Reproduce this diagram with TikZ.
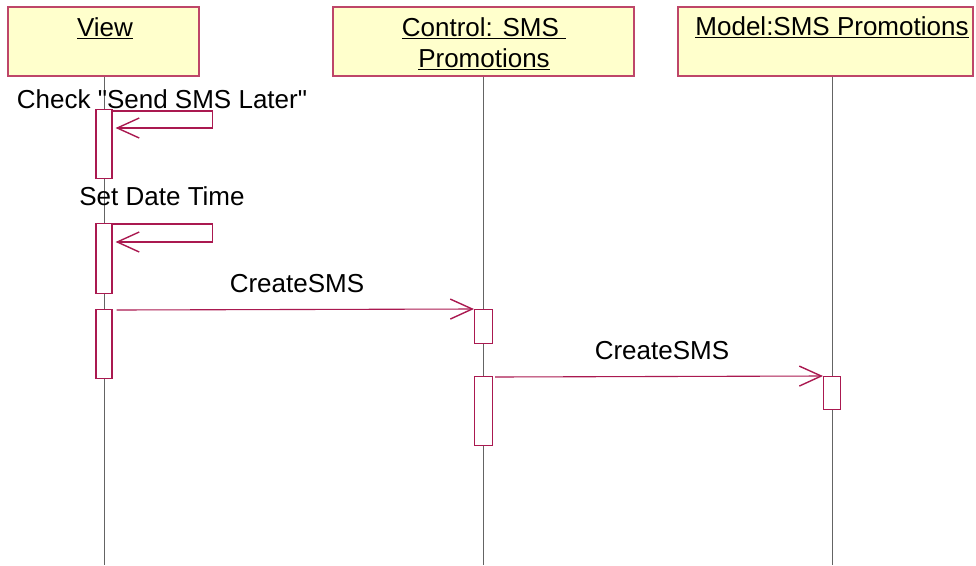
\documentclass[tikz,border=0pt]{standalone}
\usepackage{fontspec}
\setmainfont{Liberation Sans}[Ligatures=TeXOff]
\usetikzlibrary{arrows.meta}
\definecolor{boxfill}{RGB}{255,255,204}
\definecolor{boxline}{RGB}{190,70,105}
\definecolor{msgline}{RGB}{170,25,80}
\definecolor{lifeline}{RGB}{100,100,100}
\newcommand\myul[1]{\setbox0\hbox{#1}\rlap{\raisebox{-3pt}{\rule{\wd0}{1.5pt}}}\box0}
\tikzset{
  header/.style={draw=boxline, fill=boxfill, line width=1.3pt, inner sep=0pt},
  actbar/.style={draw=msgline, fill=white, line width=1.1pt, inner sep=0pt, minimum width=16pt, anchor=north},
  lline/.style={draw=lifeline, line width=1pt},
  msg/.style={draw=msgline, line width=1.1pt, -{Straight Barb[length=22pt,width=20pt,line width=1.4pt]}},
  lbl/.style={inner sep=0pt, anchor=base, font=\fontsize{26}{31}\selectfont},
}
\begin{document}
\begin{tikzpicture}[x=1pt,y=-1pt]
\useasboundingbox (0,0) rectangle (976,565);
% headers
\node[header, minimum width=191pt, minimum height=69pt] (hv) at (103.5,41.5) {};
\node[header, minimum width=301pt, minimum height=69pt] (hc) at (483.5,41.5) {};
\node[header, minimum width=295pt, minimum height=69pt] (hm) at (825.5,41.5) {};
\node[lbl] (tv) at (105,36) {\myul{View}};
\node[lbl] (tc1) at (484,36) {\myul{Control: SMS\ }};
\node[lbl] (tc2) at (484,67) {\myul{Promotions}};
\node[lbl] (tm) at (832,35) {\myul{Model:SMS Promotions}};
% lifelines
\coordinate (ev) at (104,565);
\coordinate (ec) at (483.5,565);
\coordinate (em) at (832,565);
\draw[lline] (hv.south -| ev) -- (ev);
\draw[lline] (hc.south -| ec) -- (ec);
\draw[lline] (hm.south -| em) -- (em);
% activation bars
\node[actbar, minimum height=69pt] (v1) at (104,109) {};
\node[actbar, minimum height=70pt] (v2) at (104,223) {};
\node[actbar, minimum height=69pt] (v3) at (104,309) {};
\node[actbar, minimum width=18pt, minimum height=34pt] (c1) at (483.5,309) {};
\node[actbar, minimum width=18pt, minimum height=69pt] (c2) at (483.5,376) {};
\node[actbar, minimum width=17pt, minimum height=33pt] (m1) at (832,376) {};
% self messages
\draw[msg] ([yshift=-2pt]v1.north east) -- ++(100,0) |- ([xshift=3pt,yshift=-19pt]v1.north east);
\draw[msg] ([yshift=-1pt]v2.north east) -- ++(100,0) |- ([xshift=3pt,yshift=-19pt]v2.north east);
% messages
\draw[msg] ([xshift=4pt,yshift=-1pt]v3.north east) -- (c1.north west);
\draw[msg] ([xshift=2pt,yshift=-1pt]c2.north east) -- (m1.north west);
% labels
\node[lbl] (l1) at (162,108) {Check "Send SMS Later"};
\node[lbl] (l2) at (162,205) {Set Date Time};
\node[lbl] (l3) at (297,292) {CreateSMS};
\node[lbl] (l4) at (662,359) {CreateSMS};
\end{tikzpicture}
\end{document}
